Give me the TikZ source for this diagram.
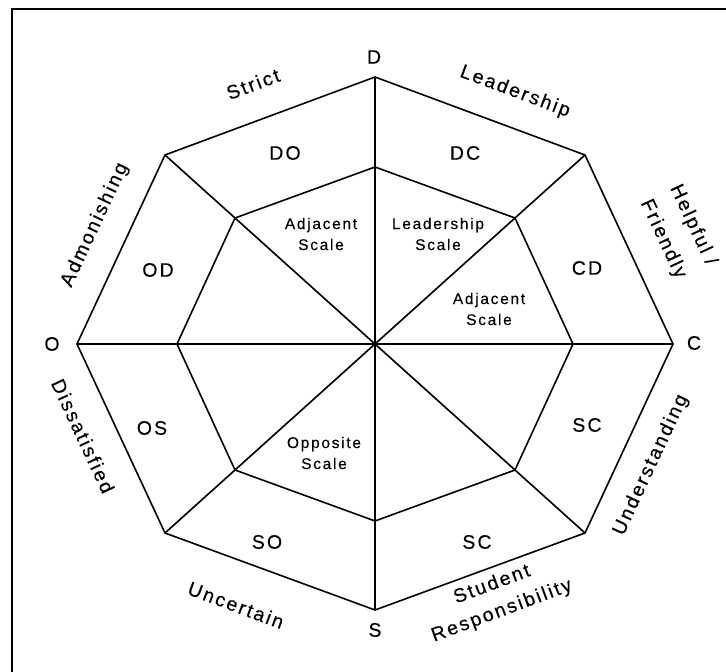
\documentclass[tikz,border=0pt]{standalone}
\usepackage{fontspec}
\setmainfont{Liberation Sans}
\newfontfamily\ringfont{Liberation Sans}[LetterSpace=11,FakeBold=0.3]
\tikzset{
	rimA/.style={
		line width=1.6pt, line join=miter,
	},
	pole/.style={
		inner sep=0pt, font={\ringfont\fontsize{19.5}{28}\selectfont}
	},
	sideA/.style={
		inner sep=0pt, align=center, font={\ringfont\fontsize{19.5}{28}\selectfont}
	},
	cellA/.style={
		inner sep=0pt, font={\ringfont\fontsize{19.5}{22}\selectfont}
	},
	scaleA/.style={
		inner sep=0pt, align=center, font={\ringfont\fontsize{15.5}{21}\selectfont}
	},
}
\begin{document}
\begin{tikzpicture}[
x=1pt, y=1pt,
%every node/.style={draw},
]
\useasboundingbox (-375,-328) rectangle (351,344);
% frame, only top and left edge
\draw [line width=1.3pt] (-363,-328) -- (-363,335) -- (351,335);
% outer ring
\coordinate (ctr) at (0,0);
\coordinate (oD)  at (0,267);
\coordinate (oDC) at (210,189);
\coordinate (oC)  at (298,0);
\coordinate (oSC) at (210,-189);
\coordinate (oS)  at (0,-266);
\coordinate (oSO) at (-210,-189);
\coordinate (oO)  at (-298,0);
\coordinate (oOD) at (-210,189);
% inner ring
\coordinate (iD)  at (0,177);
\coordinate (iDC) at (140,126);
\coordinate (iC)  at (198,0);
\coordinate (iSC) at (140,-126);
\coordinate (iS)  at (0,-177);
\coordinate (iSO) at (-140,-126);
\coordinate (iO)  at (-198,0);
\coordinate (iOD) at (-140,126);
\draw [rimA] (oD) -- (oDC) -- (oC) -- (oSC) -- (oS) -- (oSO) -- (oO) -- (oOD) -- cycle;
\draw [rimA] (iD) -- (iDC) -- (iC) -- (iSC) -- (iS) -- (iSO) -- (iO) -- (iOD) -- cycle;
\draw [rimA] (ctr) -- (oD);
\draw [rimA] (ctr) -- (oDC);
\draw [rimA] (ctr) -- (oC);
\draw [rimA] (ctr) -- (oSC);
\draw [rimA] (ctr) -- (oS);
\draw [rimA] (ctr) -- (oSO);
\draw [rimA] (ctr) -- (oO);
\draw [rimA] (ctr) -- (oOD);
% poles
\node [pole] (nD) at (-1,287) {D};
\node [pole] (nC) at (319,1) {C};
\node [pole] (nO) at (-323,0) {O};
\node [pole] (nS) at (0,-286) {S};
% sides
\node [sideA, rotate=20.5]  (strict) at (-122,260) {Strict};
\node [sideA, rotate=-20.5] (lead)   at (140,252) {Leadership};
\node [sideA, rotate=-65, font={\ringfont\fontsize{19.5}{33}\selectfont}]
	(help) at (303,112) {Helpful /\\Friendly};
\node [sideA, rotate=65]    (under)  at (276,-121) {Understanding};
\node [sideA, rotate=20.5]  (resp)   at (122,-254) {Student\\Responsibility};
\node [sideA, rotate=-20.5] (uncert) at (-139,-261) {Uncertain};
\node [sideA, rotate=-65]   (dissat) at (-292,-92) {Dissatisfied};
\node [sideA, rotate=65]    (admon)  at (-280,119) {Admonishing};
% cells
\node [cellA] (cDO) at (-90,191) {DO};
\node [cellA] (cDC) at (90,191) {DC};
\node [cellA] (cCD) at (212,76) {CD};
\node [cellA] (cSCa) at (212,-81) {SC};
\node [cellA] (cSCb) at (102,-198) {SC};
\node [cellA] (cSO) at (-108,-198) {SO};
\node [cellA] (cOS) at (-223,-84) {OS};
\node [cellA] (cOD) at (-217,74) {OD};
% scales
\node [scaleA] (adjL) at (-54,110) {Adjacent\\Scale};
\node [scaleA] (leadS) at (63,110) {Leadership\\Scale};
\node [scaleA] (adjR) at (114,35) {Adjacent\\Scale};
\node [scaleA] (oppS) at (-51,-109) {Opposite\\Scale};
\end{tikzpicture}
\end{document}
